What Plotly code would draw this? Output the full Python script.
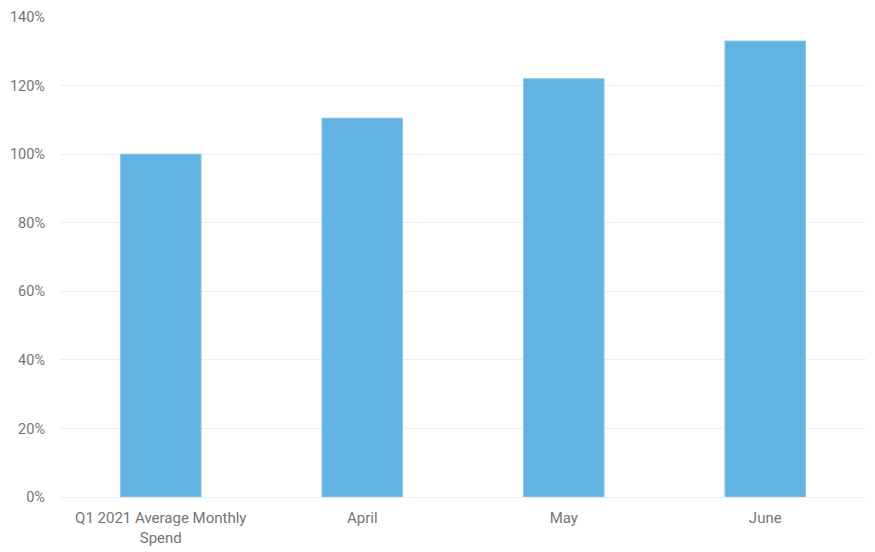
import plotly.graph_objects as go

categories = ["Q1 2021 Average Monthly<br>Spend", "April", "May", "June"]
values = [100, 110.5, 122, 133]
tick_vals = [0, 20, 40, 60, 80, 100, 120, 140]
tick_text = ["0%", "20%", "40%", "60%", "80%", "100%", "120%", "140%"]

fig = go.Figure(go.Bar(
    x=categories, y=values,
    marker=dict(color="#62B2E2", line=dict(color="#8cc7ea", width=1)),
    width=0.4,
))
fig.update_layout(
    width=875, height=552,
    margin=dict(l=52, r=17, t=9, b=63, autoexpand=False),
    paper_bgcolor="white", plot_bgcolor="white",
    font=dict(family="Roboto", size=14, color="#757575"),
    showlegend=False,
    bargap=0.6,
)
fig.update_xaxes(showgrid=False, showline=True, linecolor="#eeeeee", linewidth=1,
                 ticks="", ticklabelstandoff=7, automargin=False,
                 tickfont=dict(size=15))
fig.update_yaxes(range=[0, 140], tickmode="array", tickvals=tick_vals, ticktext=tick_text,
                 showgrid=True, gridcolor="#eeeeee", gridwidth=1,
                 zeroline=False, showline=False, ticklabelstandoff=14, automargin=False,
                 tickfont=dict(size=14.5))
fig.write_html("out.html")
